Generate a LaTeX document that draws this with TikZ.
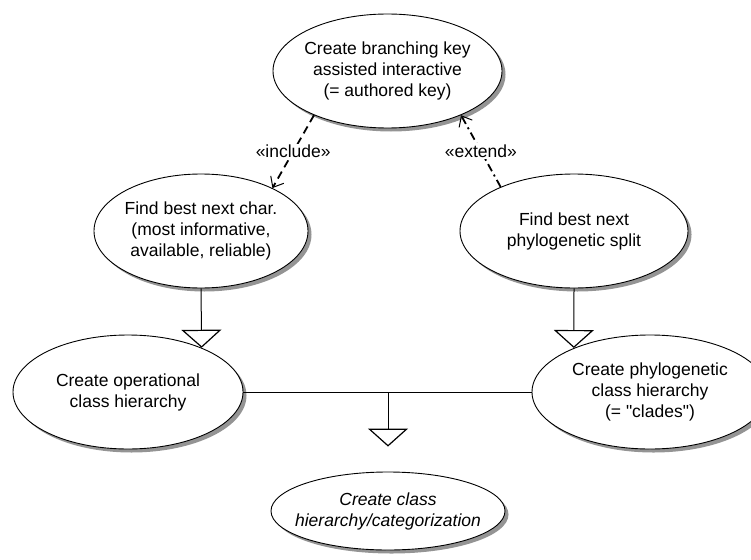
\documentclass[tikz,border=0pt]{standalone}
\usepackage{fontspec}
\setmainfont{Liberation Sans}[Ligatures=TeXOff]
\usetikzlibrary{shapes.geometric,arrows.meta,shadows}
\begin{document}
\begin{tikzpicture}[x=1pt,y=-1pt,
  uc/.style={ellipse, draw=black, line width=0.9pt, fill=white,
    inner xsep=-20pt, inner ysep=-10pt, align=center,
    font=\fontsize{17.5}{21}\selectfont,
    drop shadow={shadow xshift=3.5pt, shadow yshift=-3.5pt, fill=black!42, opacity=1}},
  lbl/.style={fill=white, inner sep=1.5pt, font=\fontsize{17.5}{21}\selectfont},
  incl/.style={line width=1.8pt, dash pattern=on 8pt off 5pt,
    -{Straight Barb[length=9pt, width=15pt, line width=1pt]}},
  extd/.style={line width=1.8pt, dash pattern=on 8pt off 4pt on 2pt off 4pt,
    -{Straight Barb[length=9pt, width=15pt, line width=1pt]}},
  gen/.style={line width=1pt, -{Triangle[length=18pt, width=40pt, fill=white, line width=1.2pt]}},
  plain/.style={line width=1pt}
]
\useasboundingbox (0,0) rectangle (751,559);

\node[uc, minimum width=229pt, minimum height=114pt] (top) at (387.5,71)
  {Create branching key\\assisted interactive\\(= authored key)};
\node[uc, minimum width=214pt, minimum height=114pt] (lm) at (201,231)
  {Find best next char.\\(most informative,\\available, reliable)};
\node[uc, minimum width=228pt, minimum height=114pt] (rm) at (574,231)
  {Find best next\\phylogenetic split};
\node[uc, minimum width=230pt, minimum height=114pt] (lb) at (128,392)
  {Create operational\\class hierarchy};
\node[uc, minimum width=236pt, minimum height=114pt] (rb) at (650,392)
  {Create phylogenetic\\class hierarchy\\(= "clades")};
\node[uc, minimum width=234pt, minimum height=78pt,
  font=\fontsize{17.5}{21}\selectfont\itshape] (bot) at (388,511)
  {Create class\\hierarchy/categorization};

\draw[incl] (top.211) -- node[lbl] {«include»} (lm.31);
\draw[extd] (rm.149) -- node[lbl] {«extend»} (top.329);

\draw[gen] (lm.south) -- (lb.31);
\draw[gen] (rm.south) -- (rb.150);

\draw[plain] (lb.east) -- (rb.west);
\coordinate (jn) at (bot.north |- lb.east);
\draw[gen, shorten >=25pt] (jn) -- (bot.north);
\end{tikzpicture}
\end{document}
